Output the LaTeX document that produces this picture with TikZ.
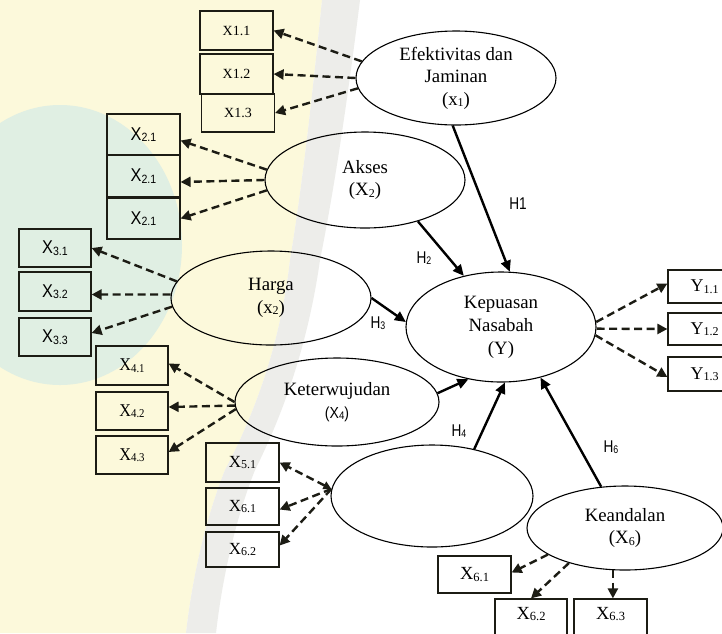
\documentclass[tikz,border=0pt]{standalone}
\usepackage{fontspec}
\setmainfont{Liberation Serif}
\newfontfamily\hsans[FakeStretch=0.88]{Liberation Sans}
\newfontfamily\hnarrow[FakeStretch=0.8]{Liberation Sans}
\newfontfamily\bserif[FakeStretch=0.9]{Liberation Serif}
\usetikzlibrary{shapes.geometric,arrows.meta,calc}
\newcommand\sbx[2][12]{\raisebox{-1.5pt}{\fontsize{#1}{#1}\selectfont #2}}
\definecolor{wmy}{HTML}{FCF9DB}
\definecolor{wmt}{HTML}{E0EFE3}
\definecolor{wmg}{HTML}{EDEDEA}
\definecolor{ink}{HTML}{1C1C14}
\tikzset{
  lat/.style={ellipse, draw, line width=1.1pt, inner sep=0pt, align=center,
              font=\fontsize{18.8}{22.5}\selectfont},
  ind/.style={draw=ink, line width=1.2pt, inner sep=0pt, minimum width=73pt},
  dsh/.style={draw=ink, line width=2.4pt, dash pattern=on 8pt off 4.5pt,
              -{Triangle[length=10pt,width=10pt]}},
  dshb/.style={dsh, {Triangle[length=8pt,width=8pt]}-{Triangle[length=10pt,width=10pt]}},
  sld/.style={line width=2.4pt, -{Triangle[length=11pt,width=10pt]}},
  hl/.style={font=\hnarrow\fontsize{17}{17}\selectfont, inner sep=0pt},
  fa/.style={font=\fontsize{14}{14}\selectfont},
  fb/.style={font=\hsans\fontsize{18.5}{18.5}\selectfont},
  fc/.style={font=\bserif\fontsize{18}{18}\selectfont},
  fd/.style={font=\fontsize{17}{17}\selectfont},
  fe/.style={font=\fontsize{18}{18}\selectfont},
  ff/.style={font=\fontsize{18.5}{18.5}\selectfont},
}
\begin{document}
\begin{tikzpicture}[x=1pt,y=-1pt]
\clip (0,0) rectangle (722,633);
% faint watermark background
\fill[white] (0,0) rectangle (722,633);
\fill[wmy] (0,0) -- (322,0) .. controls (310,120) and (300,200) .. (290,260)
  .. controls (282,330) and (262,400) .. (225,470)
  .. controls (205,520) and (192,580) .. (186,633) -- (0,633) -- cycle;
\fill[wmg] (322,0) -- (360,0) .. controls (345,120) and (332,200) .. (320,260)
  .. controls (310,330) and (290,400) .. (255,470)
  .. controls (235,520) and (222,580) .. (216,633) -- (186,633)
  .. controls (192,580) and (205,520) .. (225,470)
  .. controls (262,400) and (282,330) .. (290,260)
  .. controls (300,200) and (310,120) .. (322,0) -- cycle;
\fill[wmt] (60,245) ellipse [x radius=122pt, y radius=140pt];

% latent variables
\node[lat, minimum width=200pt, minimum height=94pt] (e1) at (456,78)
  {Efektivitas dan\\Jaminan\\(x\sbx{1})};
\node[lat, minimum width=200pt, minimum height=96pt] (e2) at (365,180)
  {Akses\\(X\sbx{2})};
\node[lat, minimum width=200pt, minimum height=94pt] (e3) at (271,298)
  {Harga\\(x\sbx{2})};
\node[lat, minimum width=204pt, minimum height=88pt] (e4) at (337,402)
  {Keterwujudan\\{\hsans\fontsize{16}{16}\selectfont(X\sbx[11]{4})}};
\node[lat, minimum width=202pt, minimum height=102pt] (e5) at (432,496) {};
\node[lat, minimum width=190pt, minimum height=110pt,
      font=\fontsize{18.8}{23}\selectfont] (y) at (501,327)
  {Kepuasan\\Nasabah\\(Y)};
\node[lat, minimum width=196pt, minimum height=84pt] (e6) at (625,528)
  {Keandalan\\(X\sbx{6})};

% indicators
\node[ind, fa, minimum height=39pt] (a1) at (236.5,30.5) {X1.1};
\node[ind, fa, minimum height=40pt] (a2) at (236.5,74) {X1.2};
\node[ind, fa, minimum height=38pt] (a3) at (238,113) {X1.3};

\node[ind, fb, minimum height=41pt] (b1) at (143.5,134.5) {X\sbx{2.1}};
\node[ind, fb, minimum height=42pt] (b2) at (143.5,176) {X\sbx{2.1}};
\node[ind, fb, minimum height=41pt] (b3) at (143.5,218.5) {X\sbx{2.1}};

\node[ind, fb, minimum width=72pt, minimum height=38pt] (c1) at (55,248) {X\sbx{3.1}};
\node[ind, fb, minimum width=72pt, minimum height=39pt] (c2) at (55,291.5) {X\sbx{3.2}};
\node[ind, fb, minimum width=72pt, minimum height=38pt] (c3) at (55,337) {X\sbx{3.3}};

\node[ind, fc, minimum width=72pt, minimum height=39pt] (d1) at (132,365.5) {X\sbx{4.1}};
\node[ind, fc, minimum width=72pt, minimum height=38pt] (d2) at (132,411) {X\sbx{4.2}};
\node[ind, fc, minimum width=72pt, minimum height=38pt] (d3) at (132,455) {X\sbx{4.3}};

\node[ind, fd, minimum height=39pt] (f1) at (242.5,462.5) {X\sbx{5.1}};
\node[ind, fd, minimum height=37pt] (f2) at (242.5,506.5) {X\sbx{6.1}};
\node[ind, fd, minimum height=35pt] (f3) at (242.5,549.5) {X\sbx{6.2}};

\node[ind, fe, minimum height=33pt] (g1) at (704.5,286.5) {Y\sbx{1.1}};
\node[ind, fe, minimum height=32pt] (g2) at (704.5,329) {Y\sbx{1.2}};
\node[ind, fe, minimum height=34pt] (g3) at (704.5,374) {Y\sbx{1.3}};

\node[ind, ff, minimum height=37pt] (h1) at (474.5,574.5) {X\sbx[12.5]{6.1}};
\node[ind, minimum width=72pt, minimum height=44pt] (h2) at (531,621) {};
\node[ind, minimum height=44pt] (h3) at (610.5,621) {};
\node[ff, inner sep=0pt] (t2) at (531,614) {X\sbx[12.5]{6.2}};
\node[ff, inner sep=0pt] (t3) at (610.5,614) {X\sbx[12.5]{6.3}};

% dashed loadings
\draw[dsh] (e1.170) -- (a1.east);
\draw[dsh] (e1.180) -- (a2.east);
\draw[dsh] (e1.186) -- (a3.east);

\draw[dsh] (e2.174) -- ($(b1.east)+(0,6)$);
\draw[dsh] (e2.180) -- ($(b2.east)+(0,6)$);
\draw[dsh] (e2.186) -- (b3.east);

\draw[dsh] (e3.170) -- (c1.east);
\draw[dsh] (e3.178) -- ($(c2.east)+(0,3)$);
\draw[dsh] (e3.185) -- ($(c3.east)+(0,-4)$);

\draw[dsh] (e4.180) -- ($(d1.east)+(0,-2)$);
\draw[dsh] (e4.182) -- ($(d2.east)+(0,-4)$);
\draw[dsh] (e4.184) -- ($(d3.east)+(0,-3)$);

\draw[dshb] (e5.176) -- (f1.east);
\draw[dsh] (e5.176) -- ($(f2.east)+(0,3)$);
\draw[dsh] (e5.176) -- ($(f3.east)+(0,-4)$);

\draw[dsh] (y.3) -- ($(g1.west)+(0,-3)$);
\draw[dsh] (y.-1) -- (g2.west);
\draw[dsh] (y.-5) -- ($(g3.west)+(0,3)$);

\draw[dsh] (e6.199) -- ($(h1.east)+(0,-2)$);
\draw[dsh] (e6.212) -- (h2.north);
\draw[dsh] (e6.-106) -- (e6.-106 |- h3.north);

% structural paths
\draw[sld] (e1.-94) -- (y.81);
\draw[sld] (e2.-38) -- (y.126);
\draw[sld] (e3.0) -- (y.177);
\draw[sld] (e4.5) -- (y.-122);
\draw[sld] (e5.48) -- (y.-86);
\draw[sld] (e6.120) -- (y.-52);

% hypothesis labels
\node[hl] (l1) at (518,204) {H1};
\node[hl] (l2) at (424,258) {H\sbx[11]{2}};
\node[hl] (l3) at (378,323) {H\sbx[11]{3}};
\node[hl] (l4) at (459,431) {H\sbx[11]{4}};
\node[hl] (l6) at (611,447) {H\sbx[11]{6}};
\end{tikzpicture}
\end{document}
